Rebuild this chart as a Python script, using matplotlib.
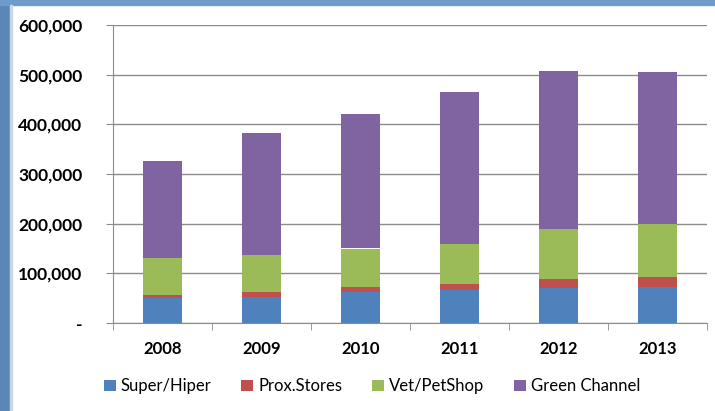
import numpy as np
import matplotlib.pyplot as plt
from matplotlib.patches import Rectangle
from matplotlib.ticker import FuncFormatter

years = ["2008", "2009", "2010", "2011", "2012", "2013"]
series_names = ["Super/Hiper", "Prox.Stores", "Vet/PetShop", "Green Channel"]
super_hiper = [51000, 53000, 63000, 66000, 70000, 72000]
prox_stores = [5000, 10000, 9000, 13000, 18000, 21000]
vet_petshop = [74000, 74000, 78000, 81000, 102000, 106000]
green_channel = [197000, 245000, 271000, 306000, 318000, 307000]
colors = ["#4F81BD", "#C0504D", "#9BBB59", "#8064A2"]

plt.rcParams['font.family'] = ['Lato', 'DejaVu Sans']

fig = plt.figure(figsize=(7.15, 4.11), dpi=100)

# slide frame: blue strip on the left and top
fig.patches.append(Rectangle((0, 0), 10 / 715, 1, transform=fig.transFigure,
                             color="#5A86B8", zorder=0))
fig.patches.append(Rectangle((0, 1 - 5 / 411), 1, 5 / 411, transform=fig.transFigure,
                             color="#6F9BCB", zorder=0))
fig.patches.append(Rectangle((10 / 715, 0), 1.5 / 715, 1 - 5 / 411, transform=fig.transFigure,
                             color="#C9D6E6", zorder=0))

ax = fig.add_axes([113 / 715, 88 / 411, 594 / 715, 298 / 411])

x = np.arange(len(years))
bottom = np.zeros(len(years))
for name, vals, c in zip(series_names, [super_hiper, prox_stores, vet_petshop, green_channel], colors):
    ax.bar(x, vals, width=0.39, bottom=bottom, color=c, label=name, zorder=3)
    bottom += np.array(vals)

ax.set_xlim(-0.5, len(years) - 0.5)
ax.set_ylim(0, 600000)
ax.set_yticks(np.arange(0, 600001, 100000))
ax.yaxis.set_major_formatter(FuncFormatter(lambda v, p: "-" if v == 0 else f"{int(v):,}"))
ax.yaxis.grid(True, color="#8C8C8C", linewidth=1.0, zorder=0)

ax.set_xticks(x)
ax.set_xticklabels(years)
ax.set_xticks(np.arange(-0.5, len(years)), minor=True)
ax.tick_params(axis="x", which="major", length=0, pad=13, labelsize=12)
ax.tick_params(axis="x", which="minor", length=5, color="#8C8C8C")
ax.tick_params(axis="y", length=5, color="#8C8C8C", pad=17, labelsize=12.5)
for lbl in ax.get_xticklabels() + ax.get_yticklabels():
    lbl.set_fontweight("bold")

for s in ["top", "right"]:
    ax.spines[s].set_visible(False)
for s in ["left", "bottom"]:
    ax.spines[s].set_color("#8C8C8C")

ax.legend(loc="upper center", bbox_to_anchor=(0.5 - 38 / 594, -0.135), ncol=4, frameon=False,
          fontsize=12, handlelength=0.7, handleheight=0.7, handletextpad=0.3,
          columnspacing=1.8)

fig.savefig("out.png", dpi=100)
